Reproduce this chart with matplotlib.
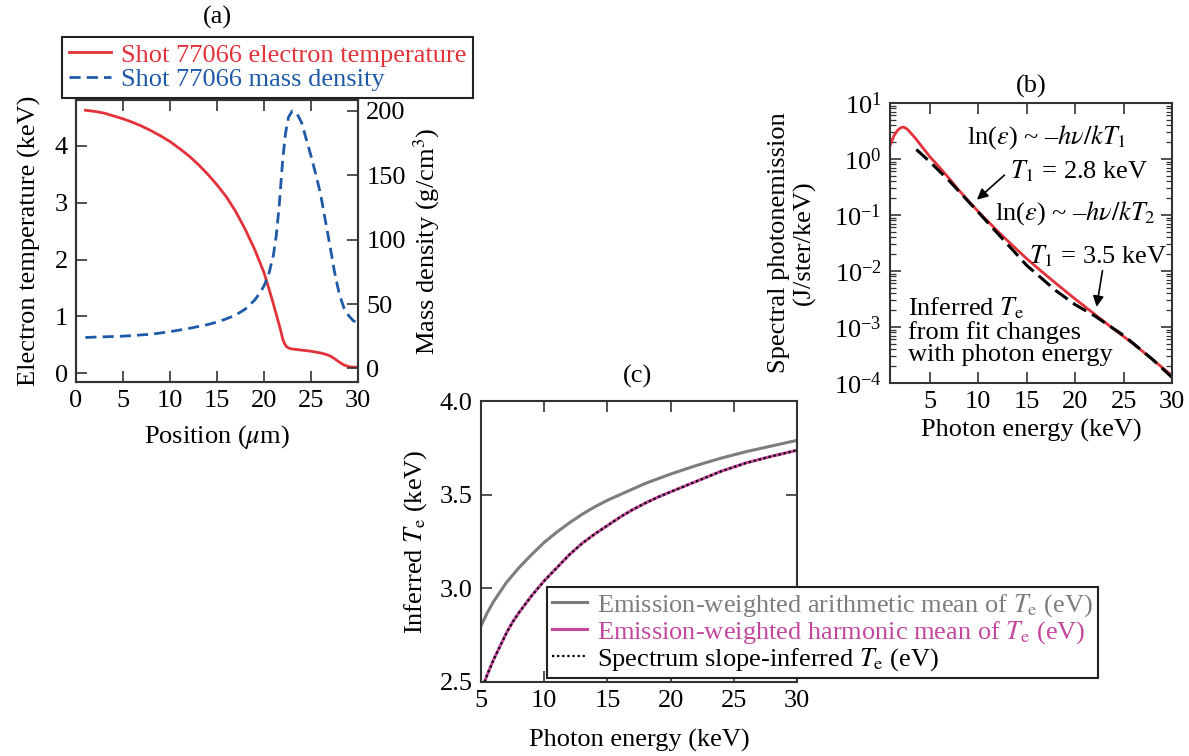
import matplotlib
matplotlib.use("Agg")
import matplotlib.pyplot as plt
import numpy as np

plt.rcParams['font.family'] = ['Liberation Serif', 'DejaVu Serif']
plt.rcParams['mathtext.fontset'] = 'stix'
plt.rcParams['font.size'] = 19
FS = 19

# (a) profiles vs position
pos_T = [1, 2, 3, 4, 5, 6, 7, 8, 9, 10, 11, 12, 13, 14, 15, 16, 17, 18, 19, 20, 20.5, 21,
         21.5, 21.8, 22, 22.2, 22.4, 22.7, 23, 24, 25, 26, 26.5, 27, 27.5, 28, 28.5, 29, 29.5, 30]
temp_keV = [4.62, 4.60, 4.57, 4.52, 4.47, 4.41, 4.34, 4.26, 4.17, 4.07, 3.95, 3.82, 3.67, 3.50,
            3.31, 3.10, 2.84, 2.53, 2.18, 1.77, 1.50, 1.22, 0.92, 0.74, 0.60, 0.52, 0.47, 0.44,
            0.43, 0.41, 0.39, 0.36, 0.34, 0.31, 0.26, 0.20, 0.15, 0.12, 0.11, 0.11]
pos_rho = [1, 5, 8, 10, 12, 14, 15, 16, 17, 18, 19, 19.5, 20, 20.5, 21, 21.3, 21.6, 22, 22.3,
           22.6, 23, 23.5, 24, 24.5, 25, 25.5, 26, 26.5, 27, 27.5, 28, 28.5, 29, 29.5, 30]
density = [24, 25, 26.5, 28.5, 31, 34, 36, 38.5, 41.5, 46, 53, 58, 64, 73, 88, 103, 125, 163, 183,
           195, 200, 198, 191, 178, 165, 151, 136, 116, 96, 75, 58, 47, 41, 37, 35]

# (b) spectrum (log10 of J/ster/keV)
e_spec = [0.9, 1.3, 1.7, 2.0, 2.3, 2.6, 2.9, 3.2, 3.6, 4, 5, 6, 7, 8, 9, 10, 12, 14, 15, 16,
          18, 20, 22, 24, 26, 28, 30]
log_spec = [0.25, 0.42, 0.52, 0.56, 0.57, 0.54, 0.49, 0.43, 0.35, 0.26, 0.04, -0.15, -0.35,
            -0.56, -0.75, -0.94, -1.29, -1.62, -1.78, -1.93, -2.22, -2.50, -2.77, -3.04, -3.30,
            -3.58, -3.87]
e_fit = [3.6, 5, 7, 10, 12, 15, 18, 20, 22, 25, 28, 30]
log_fit = [0.17, -0.05, -0.39, -0.95, -1.33, -1.90, -2.35, -2.60, -2.80, -3.15, -3.58, -3.90]

# (c) inferred Te vs photon energy
e_inf = [5, 5.5, 6, 6.5, 7, 7.5, 8, 9, 10, 11, 12, 13, 14, 15, 16, 17, 18, 19, 20, 22, 24,
         26, 28, 30]
te_arith = [2.80, 2.87, 2.93, 2.98, 3.03, 3.07, 3.11, 3.18, 3.245, 3.30, 3.35, 3.395, 3.435,
            3.47, 3.50, 3.53, 3.56, 3.585, 3.61, 3.655, 3.695, 3.73, 3.76, 3.79]
te_harm = [2.45, 2.54, 2.62, 2.69, 2.76, 2.82, 2.87, 2.96, 3.04, 3.11, 3.18, 3.24, 3.29, 3.335,
           3.38, 3.42, 3.455, 3.487, 3.515, 3.57, 3.625, 3.67, 3.705, 3.737]
te_slope = te_harm

RED = '#e2323a'
BLUE = '#1f5aa8'
GRAY = '#7d7d7d'
MAG = '#c4479e'
SPINE = '#333333'

W, H = 1189, 756
fig = plt.figure(figsize=(W / 100, H / 100), dpi=100)


def box(l, t, r, b):
    return [l / W, 1 - b / H, (r - l) / W, (b - t) / H]


def style(ax, **kw):
    for s in ax.spines.values():
        s.set_color(SPINE)
        s.set_linewidth(1.5)
    ax.tick_params(which='major', direction='in', length=8, width=1.2, labelsize=FS, pad=6,
                   color=SPINE, **kw)
    ax.tick_params(which='minor', direction='in', length=4, width=0.9, color=SPINE, **kw)


# ---- (a)
ax_a = fig.add_axes(box(76, 100, 358, 382))
l1, = ax_a.plot(pos_T, temp_keV, color=RED, lw=2, label='Shot 77066 electron temperature')
ax_a.set_xlim(0, 30)
ax_a.set_ylim(-0.15, 4.8)
ax_a.set_xticks(range(0, 31, 5))
ax_a.set_yticks([0, 1, 2, 3, 4])
ax_a.set_xlabel(r'Position ($\mu$m)', fontsize=FS, labelpad=8)
ax_a.set_ylabel('Electron temperature (keV)', fontsize=FS, labelpad=10)
style(ax_a, top=True, right=False)
ax_a2 = ax_a.twinx()
l2, = ax_a2.plot(pos_rho, density, color=BLUE, lw=2, ls=(0, (4, 2.2)),
                 label='Shot 77066 mass density')
ax_a2.set_ylim(-10.6, 208.5)
ax_a2.set_yticks([0, 50, 100, 150, 200])
ax_a2.set_ylabel(r'Mass density (g/cm$^3$)', fontsize=FS)
style(ax_a2, right=True, left=False)
leg = ax_a.legend(handles=[l1, l2], loc='lower left', bbox_to_anchor=(62 / W, 1 - 98 / H),
                  bbox_transform=fig.transFigure, borderaxespad=0, fontsize=FS,
                  labelcolor='linecolor', handlelength=1.6, handletextpad=0.4,
                  labelspacing=0.05, borderpad=0.25, fancybox=False, framealpha=1)
leg.get_frame().set_edgecolor('#222222')
leg.get_frame().set_linewidth(1.5)
fig.text(217 / W, 1 - 17 / H, '(a)', ha='center', va='center', fontsize=FS)

# ---- (b)
ax_b = fig.add_axes(box(890, 103, 1172, 383))
ax_b.plot(e_spec, 10 ** np.array(log_spec), color=RED, lw=2)
ax_b.plot(e_fit, 10 ** np.array(log_fit), color='black', lw=2.2, ls=(0, (5, 2.2)))
ax_b.set_yscale('log')
ax_b.set_xlim(0.88, 30)
ax_b.set_ylim(1e-4, 1e1)
ax_b.set_xticks(range(5, 31, 5))
ax_b.yaxis.set_minor_locator(matplotlib.ticker.LogLocator(base=10, subs=np.arange(2, 10), numticks=20))
ax_b.yaxis.set_minor_formatter(matplotlib.ticker.NullFormatter())
ax_b.set_xlabel('Photon energy (keV)', fontsize=FS)
ax_b.set_ylabel('Spectral photonemission\n(J/ster/keV)', fontsize=FS, linespacing=1.15,
                labelpad=13)
style(ax_b, top=True, right=True)
fig.text(1031 / W, 1 - 86 / H, '(b)', ha='center', va='center', fontsize=FS)

ax_b.text(0.555, 0.879, r'ln($\varepsilon$) ~ –$h\nu/kT_1$', transform=ax_b.transAxes,
          ha='center', va='center', fontsize=FS)
ax_b.text(0.672, 0.755, r'$T_1$ = 2.8 keV', transform=ax_b.transAxes,
          ha='center', va='center', fontsize=FS)
ax_b.annotate('', xy=(0.301, 0.648), xytext=(0.413, 0.749), xycoords='axes fraction',
              arrowprops=dict(arrowstyle='-|>', color='black', lw=1.2, mutation_scale=16))
ax_b.text(0.658, 0.607, r'ln($\varepsilon$) ~ –$h\nu/kT_2$', transform=ax_b.transAxes,
          ha='center', va='center', fontsize=FS)
ax_b.text(0.739, 0.453, r'$T_1$ = 3.5 keV', transform=ax_b.transAxes,
          ha='center', va='center', fontsize=FS)
ax_b.annotate('', xy=(0.731, 0.262), xytext=(0.755, 0.411), xycoords='axes fraction',
              arrowprops=dict(arrowstyle='-|>', color='black', lw=1.2, mutation_scale=16))
ax_b.text(0.065, 0.186, 'Inferred $T_\\mathrm{e}$\nfrom fit changes\nwith photon energy',
          transform=ax_b.transAxes, ha='left', va='center', fontsize=FS, linespacing=1.0)

# ---- (c)
ax_c = fig.add_axes(box(481, 401, 797, 682))
h1, = ax_c.plot(e_inf, te_arith, color=GRAY, lw=2.2,
                label=r'Emission-weighted arithmetic mean of $T_\mathrm{e}$ (eV)')
h2, = ax_c.plot(e_inf, te_harm, color=MAG, lw=2.2,
                label=r'Emission-weighted harmonic mean of $T_\mathrm{e}$ (eV)')
h3, = ax_c.plot(e_inf, te_slope, color='black', lw=1.6, ls=(0, (1, 1.3)),
                label=r'Spectrum slope-inferred $T_\mathrm{e}$ (eV)')
ax_c.set_xlim(5, 30)
ax_c.set_ylim(2.5, 4.0)
ax_c.set_xticks(range(5, 31, 5))
ax_c.set_yticks([2.5, 3.0, 3.5, 4.0])
ax_c.set_yticklabels(['2.5', '3.0', '3.5', '4.0'])
ax_c.set_xlabel('Photon energy (keV)', fontsize=FS, labelpad=12)
ax_c.set_ylabel(r'Inferred $T_\mathrm{e}$ (keV)', fontsize=FS, labelpad=8)
style(ax_c, top=True, right=True)
fig.text(638 / W, 1 - 376 / H, '(c)', ha='center', va='center', fontsize=FS)
leg_c = ax_c.legend(handles=[h1, h2, h3], loc='lower left',
                    bbox_to_anchor=(547 / W, 1 - 678 / H), bbox_transform=fig.transFigure,
                    borderaxespad=0, fontsize=FS, labelcolor=[GRAY, MAG, 'black'],
                    handlelength=1.3, handletextpad=0.4, labelspacing=0.0, borderpad=0.2,
                    fancybox=False, framealpha=1)
leg_c.get_frame().set_edgecolor('#222222')
leg_c.get_frame().set_linewidth(1.5)

fig.savefig('out.png', dpi=100)
